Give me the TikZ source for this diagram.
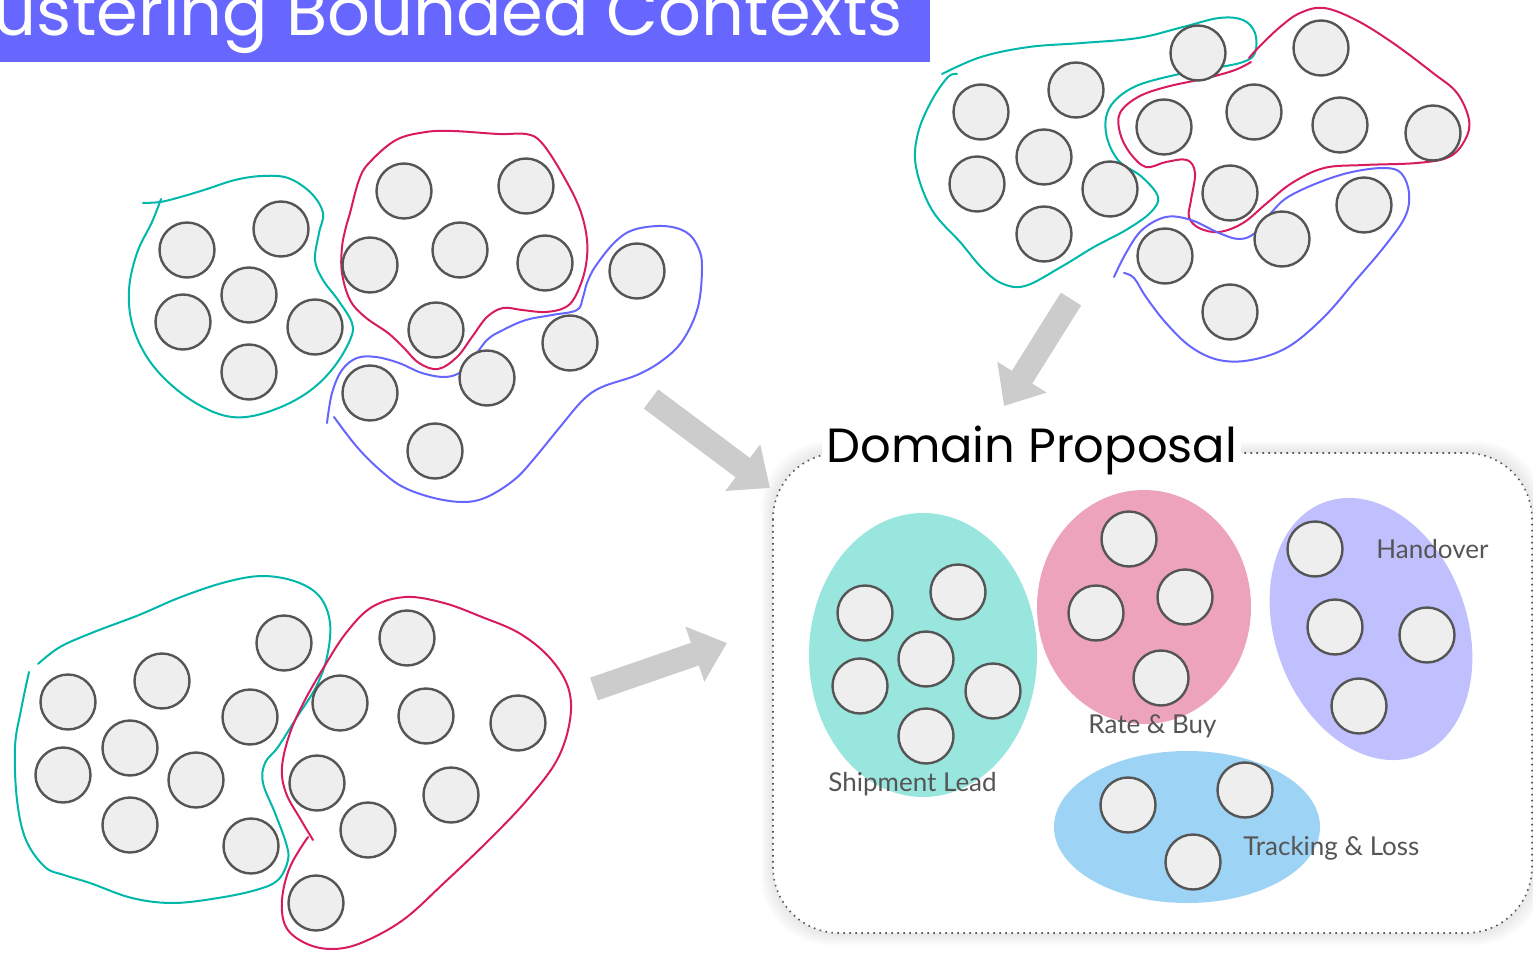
\documentclass[tikz,border=0pt]{standalone}
\usepackage{fontspec}
\newfontfamily\poppins{Poppins}
\newfontfamily\tagfont{Lato}
\usetikzlibrary{arrows.meta}
\definecolor{titleblue}{RGB}{103,103,255}
\definecolor{tealline}{RGB}{0,184,169}
\definecolor{redline}{RGB}{216,27,96}
\definecolor{blueline}{RGB}{102,102,255}
\definecolor{ballfill}{RGB}{238,238,238}
\definecolor{balledge}{RGB}{85,85,85}
\definecolor{arrowgray}{RGB}{204,204,204}
\definecolor{taggray}{RGB}{85,85,85}
\definecolor{shipfill}{RGB}{153,230,222}
\definecolor{ratefill}{RGB}{238,163,189}
\definecolor{handfill}{RGB}{192,192,255}
\definecolor{trackfill}{RGB}{157,211,245}

\begin{document}
\begin{tikzpicture}[x=0.5pt, y=-0.5pt,
  ball/.style={circle, draw=balledge, fill=ballfill, line width=1.2pt, minimum size=27.5pt, inner sep=0pt},
  lasso/.style={line width=1pt, line cap=round, line join=round},
  bigarrow/.style={draw=arrowgray, line width=12pt, -{Triangle[length=17pt, width=28pt]}},
  tag/.style={anchor=base west, inner sep=0pt, text=taggray, font=\tagfont\fontsize{13}{15}\selectfont}]
\useasboundingbox (0,0) rectangle (1533,953);

% title bar
\fill[titleblue] (0,0) rectangle (930,62);
\node[anchor=base east, inner sep=0pt, text=white, font=\poppins\fontsize{33.6}{38}\selectfont] (title) at (903,35) {Clustering Bounded Contexts};

% first sketch
\draw[lasso, tealline] plot[smooth, tension=0.6] coordinates {(161,199) (152,222) (137,253) (129,290) (133,327) (151,363) (181,393) (216,413) (246,417) (281,407) (311,390) (334,367) (350,340) (352,323) (338,300) (323,280) (315,260) (319,233) (323,213) (311,193) (288,178) (262,176) (235,180) (204,190) (177,198) (160,202) (143,203)};
\draw[lasso, redline] plot[smooth cycle, tension=0.6] coordinates {(369,163) (396,140) (426,132) (453,131) (499,134) (526,134) (541,142) (560,170) (579,207) (587,240) (585,270) (575,297) (564,308) (545,312) (522,310) (503,308) (487,317) (472,337) (457,357) (438,369) (419,363) (403,347) (388,333) (365,317) (350,300) (342,273) (342,247) (346,227) (350,213) (359,180)};
\draw[lasso, blueline] plot[smooth, tension=0.6] coordinates {(327,423) (332,393) (342,370) (357,358) (376,357) (399,363) (422,373) (445,377) (461,372) (472,360) (487,340) (503,330) (526,320) (552,315) (577,310) (583,297) (587,283) (595,267) (614,243) (633,230) (663,226) (686,232) (698,247) (702,267) (698,307) (683,340) (663,360) (637,375) (602,387) (583,400) (560,427) (533,460) (514,480) (487,497) (464,502) (434,498) (403,487) (380,470) (357,447) (334,417)};
\foreach \x/\y [count=\i] in {187/250, 281/229, 249/295, 183/322, 315/327, 249/372, 404/191, 526/186, 370/265, 460/250, 545/263, 436/330, 637/271, 570/343, 487/378, 370/393, 435/451}
  \node[ball] (a-\i) at (\x,\y) {};

% second sketch
\draw[lasso, tealline] plot[smooth, tension=0.6] coordinates {(38,664) (60,647) (94,632) (139,615) (181,597) (226,582) (263,576) (297,582) (320,597) (330,623) (327,657) (316,687) (297,717) (278,747) (265,763) (263,783) (275,813) (286,843) (288,860) (278,880) (256,890) (218,898) (173,903) (132,898) (90,883) (64,875) (45,867) (26,840) (17,800) (15,747) (21,710) (29,672)};
\draw[lasso, redline] plot[smooth, tension=0.6] coordinates {(313,840) (301,820) (286,793) (282,767) (290,733) (305,700) (324,667) (346,633) (372,607) (406,597) (444,603) (482,617) (519,633) (549,657) (568,687) (570,720) (557,760) (527,800) (489,840) (444,883) (403,920) (361,943) (331,949) (305,943) (286,927) (282,900) (290,867) (308,837)};
\foreach \x/\y [count=\i] in {68/702, 162/681, 284/643, 63/775, 130/748, 250/717, 196/780, 130/825, 251/846, 407/638, 340/703, 426/716, 518/723, 317/783, 451/795, 368/830, 316/903}
  \node[ball] (b-\i) at (\x,\y) {};

% third sketch
\draw[lasso, tealline] plot[smooth, tension=0.6] coordinates {(942,74) (981,57) (1029,47) (1082,43) (1138,38) (1183,27) (1219,18) (1243,20) (1255,33) (1255,53) (1243,62) (1215,68) (1175,75) (1134,87) (1110,107) (1106,133) (1118,160) (1142,177) (1158,197) (1150,213) (1126,230) (1094,247) (1061,267) (1025,286) (1001,283) (981,267) (961,243) (932,210) (916,167) (918,133) (932,100) (948,77) (957,74)};
\draw[lasso, redline] plot[smooth, tension=0.6] coordinates {(1251,62) (1235,70) (1207,78) (1166,87) (1138,97) (1120,113) (1120,133) (1130,153) (1146,167) (1166,162) (1187,160) (1195,173) (1191,200) (1189,217) (1199,228) (1219,232) (1243,223) (1267,203) (1292,183) (1324,168) (1364,165) (1417,163) (1449,157) (1465,140) (1469,120) (1457,93) (1433,73) (1393,43) (1356,20) (1324,8) (1300,13) (1280,27) (1259,47) (1249,58)};
\draw[lasso, blueline] plot[smooth, tension=0.6] coordinates {(1114,277) (1126,253) (1142,230) (1166,217) (1191,220) (1219,233) (1239,239) (1255,233) (1271,213) (1288,197) (1320,182) (1352,172) (1384,168) (1401,173) (1409,193) (1405,217) (1384,247) (1356,280) (1324,317) (1288,347) (1251,360) (1219,360) (1191,347) (1166,323) (1146,297) (1134,278) (1124,273)};
\foreach \x/\y [count=\i] in {981/112, 1076/90, 977/184, 1044/157, 1110/189, 1044/234, 1198/53, 1321/48, 1164/127, 1254/112, 1340/125, 1433/133, 1230/193, 1282/239, 1364/205, 1165/256, 1230/312}
  \node[ball] (c-\i) at (\x,\y) {};

% proposal frame
\foreach \s in {1,...,8}
  \fill[black, opacity=0.012, rounded corners=34pt] (773-1.5*\s,453-1.5*\s) rectangle (1532+1.5*\s,933+1.5*\s);
\draw[fill=white, draw=balledge, line width=0.8pt, dash pattern=on 0.8pt off 2.2pt, rounded corners=33pt] (773,453) rectangle (1532,933);

\fill[shipfill] (923,655) ellipse [x radius=114, y radius=142];
\fill[ratefill] (1144,607) ellipse [x radius=107, y radius=117];
\fill[handfill, rotate around={20:(1371,629)}] (1371,629) ellipse [x radius=96, y radius=135];
\fill[trackfill] (1187,827) ellipse [x radius=133, y radius=76];

\foreach \x/\y [count=\i] in {865/613, 958/592, 926/659, 860/686, 993/691, 926/736, 1129/539, 1096/613, 1185/597, 1161/678, 1315/549, 1335/627, 1427/635, 1359/706, 1128/805, 1245/790, 1193/862}
  \node[ball] (d-\i) at (\x,\y) {};

\node[tag] (ship) at (828,791) {Shipment Lead};
\node[tag] (rate) at (1088,733) {Rate \& Buy};
\node[tag] (hand) at (1376,558) {Handover};
\node[tag] (track) at (1243,855) {Tracking \& Loss};
\node[anchor=base west, fill=white, inner sep=2pt, font=\poppins\fontsize{24}{29}\selectfont] (proposal) at (822,462) {Domain Proposal};

% arrows
\coordinate (s1) at (651,399); \coordinate (e1) at (770,488);
\coordinate (s2) at (594,689); \coordinate (e2) at (727,643);
\coordinate (s3) at (1071,299); \coordinate (e3) at (1004,406);
\draw[bigarrow] (s1) -- (e1);
\draw[bigarrow] (s2) -- (e2);
\draw[bigarrow] (s3) -- (e3);
\end{tikzpicture}
\end{document}
